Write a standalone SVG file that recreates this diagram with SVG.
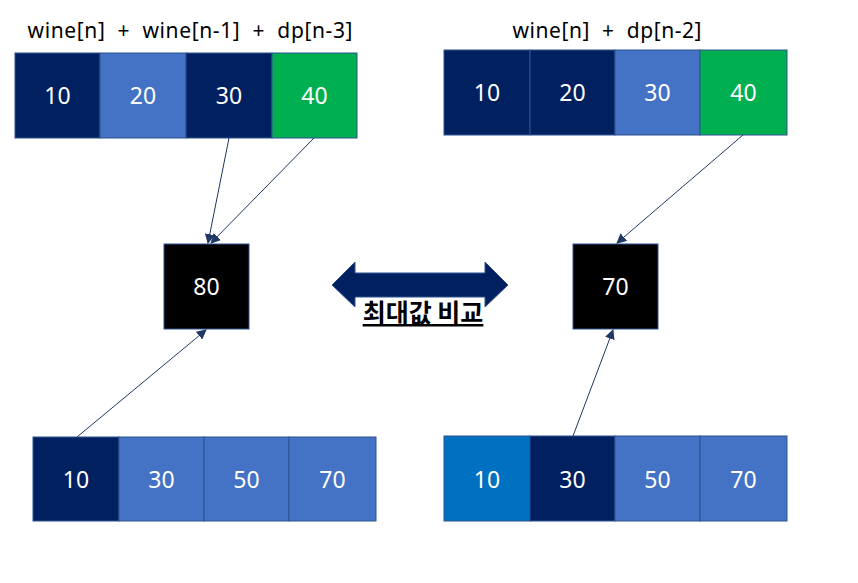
<svg xmlns="http://www.w3.org/2000/svg" width="858" height="583" viewBox="0 0 858 583">
<defs>
<style>
.cell{stroke:#2F528F;stroke-width:1}
.navy{fill:#002060}
.blue{fill:#4472C4}
.green{fill:#00B050}
.mid{fill:#0070C0}
.blk{fill:#000000}
.num{font-family:"Noto Sans","Liberation Sans",sans-serif;font-size:23px;fill:#ffffff;text-anchor:middle}
.title{font-family:"Noto Sans","Liberation Sans",sans-serif;font-size:21px;fill:#000000;text-anchor:middle}
.lbl{font-family:"Noto Sans CJK KR","Noto Sans",sans-serif;font-size:25px;font-weight:bold;fill:#000000;text-anchor:middle;text-decoration:underline}
.conn{stroke:#1F3864;stroke-width:1;fill:none;marker-end:url(#ah)}
</style>
<marker id="ah" viewBox="0 0 10 10" refX="9" refY="5" markerWidth="10" markerHeight="10" markerUnits="userSpaceOnUse" orient="auto">
<path d="M0,0 L10,5 L0,10 z" fill="#1F3864"/>
</marker>
</defs>
<rect width="858" height="583" fill="#ffffff"/>

<text class="title" x="190" y="38" textLength="325" lengthAdjust="spacing" xml:space="preserve">wine[n]  +  wine[n-1]  +  dp[n-3]</text>
<text class="title" x="607" y="38" textLength="189" lengthAdjust="spacing" xml:space="preserve">wine[n]  +  dp[n-2]</text>

<g id="top-left">
<rect class="cell navy" x="15" y="53" width="85" height="85"/>
<rect class="cell blue" x="100" y="53" width="86" height="85"/>
<rect class="cell navy" x="186" y="53" width="86" height="85"/>
<rect class="cell green" x="272" y="53" width="85" height="85"/>
<text class="num" x="57.5" y="104">10</text>
<text class="num" x="143" y="104">20</text>
<text class="num" x="229" y="104">30</text>
<text class="num" x="314.5" y="104">40</text>
</g>

<g id="top-right">
<rect class="cell navy" x="444" y="50" width="86" height="85"/>
<rect class="cell navy" x="530" y="50" width="85" height="85"/>
<rect class="cell blue" x="615" y="50" width="85" height="85"/>
<rect class="cell green" x="700" y="50" width="87" height="85"/>
<text class="num" x="487" y="101">10</text>
<text class="num" x="572.5" y="101">20</text>
<text class="num" x="657.5" y="101">30</text>
<text class="num" x="743.5" y="101">40</text>
</g>

<g id="box-80">
<rect class="cell blk" x="164" y="244" width="85" height="85"/>
<text class="num" x="206.5" y="295">80</text>
</g>

<g id="box-70">
<rect class="cell blk" x="573" y="244" width="85" height="85"/>
<text class="num" x="615.5" y="295">70</text>
</g>

<g id="compare">
<path d="M332,285 L355,262 L355,273 L485,273 L485,262 L508,285 L485,307 L485,297 L355,297 L355,307 z" fill="#002060" stroke="#2F528F" stroke-width="1"/>
<text class="lbl" x="423" y="322">최대값 비교</text>
</g>

<g id="bottom-left">
<rect class="cell navy" x="33" y="437" width="86" height="84"/>
<rect class="cell blue" x="119" y="437" width="85" height="84"/>
<rect class="cell blue" x="204" y="437" width="85" height="84"/>
<rect class="cell blue" x="289" y="437" width="87" height="84"/>
<text class="num" x="76" y="488">10</text>
<text class="num" x="161.5" y="488">30</text>
<text class="num" x="246.5" y="488">50</text>
<text class="num" x="332.5" y="488">70</text>
</g>

<g id="bottom-right">
<rect class="cell mid" x="444" y="436" width="86" height="85"/>
<rect class="cell navy" x="530" y="436" width="85" height="85"/>
<rect class="cell blue" x="615" y="436" width="85" height="85"/>
<rect class="cell blue" x="700" y="436" width="87" height="85"/>
<text class="num" x="487" y="488">10</text>
<text class="num" x="572.5" y="488">30</text>
<text class="num" x="657.5" y="488">50</text>
<text class="num" x="743.5" y="488">70</text>
</g>

<g id="connectors">
<line class="conn" x1="229" y1="138" x2="208" y2="243"/>
<line class="conn" x1="314" y1="138" x2="211" y2="243"/>
<line class="conn" x1="743" y1="135" x2="617" y2="243"/>
<line class="conn" x1="77" y1="437" x2="206" y2="330"/>
<line class="conn" x1="573" y1="436" x2="613" y2="330"/>
</g>
</svg>
